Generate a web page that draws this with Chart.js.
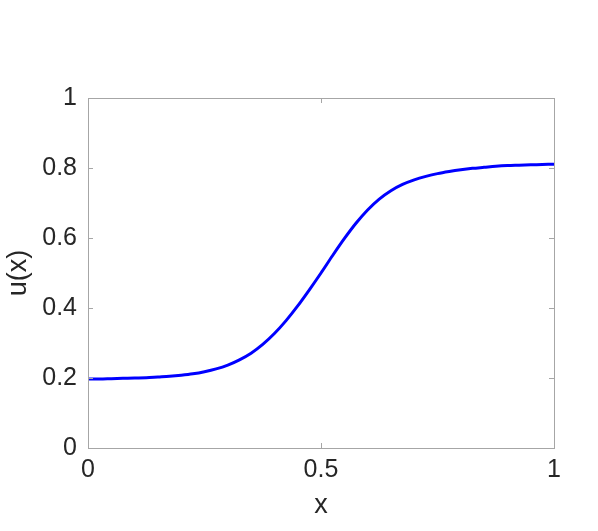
<!DOCTYPE html>
<html>
<head>
<meta charset="utf-8">
<script src="https://cdn.jsdelivr.net/npm/chart.js@4.4.1/dist/chart.umd.min.js"></script>
<style>
html,body{margin:0;padding:0;background:#fff;}
#wrap{width:598px;height:531px;}
</style>
</head>
<body>
<div id="wrap"><canvas id="c" width="598" height="531"></canvas></div>
<script>
const xValues = [0,0.025,0.05,0.075,0.1,0.125,0.15,0.175,0.2,0.225,0.25,0.275,0.3,0.325,0.35,0.375,0.4,0.425,0.45,0.475,0.5,0.525,0.55,0.575,0.6,0.625,0.65,0.675,0.7,0.725,0.75,0.775,0.8,0.825,0.85,0.875,0.9,0.925,0.95,0.975,1];
const uValues = [0.197,0.197,0.198,0.199,0.200,0.201,0.203,0.205,0.208,0.212,0.218,0.226,0.237,0.252,0.271,0.296,0.327,0.364,0.406,0.452,0.500,0.550,0.598,0.642,0.680,0.711,0.735,0.753,0.766,0.776,0.784,0.790,0.795,0.799,0.802,0.805,0.807,0.808,0.809,0.810,0.811];
const xTicks = [0,0.5,1];
const yTicks = [0,0.2,0.4,0.6,0.8,1];

const axisColor = '#a6a6a6';
const textColor = '#262626';
const fontFam = '"Liberation Sans", Arial, Helvetica, sans-serif';

const boxPlugin = {
  id: 'box',
  afterDraw(chart) {
    const {ctx, chartArea: a, scales} = chart;
    ctx.save();
    ctx.strokeStyle = axisColor;
    ctx.lineWidth = 1;
    ctx.beginPath();
    ctx.rect(a.left + 0.5, a.top + 0.5, a.right - a.left, a.bottom - a.top);
    ctx.stroke();
    const tl = 5;
    ctx.beginPath();
    yTicks.forEach(v => {
      const y = Math.round(scales.y.getPixelForValue(v)) + 0.5;
      ctx.moveTo(a.left, y); ctx.lineTo(a.left + tl, y);
      ctx.moveTo(a.right, y); ctx.lineTo(a.right - tl, y);
    });
    xTicks.forEach(v => {
      const x = Math.round(scales.x.getPixelForValue(v)) + 0.5;
      ctx.moveTo(x, a.bottom); ctx.lineTo(x, a.bottom - tl);
      ctx.moveTo(x, a.top); ctx.lineTo(x, a.top + tl);
    });
    ctx.stroke();
    ctx.restore();
  }
};

new Chart(document.getElementById('c'), {
  type: 'line',
  data: {
    datasets: [{
      data: xValues.map((x, i) => ({x: x, y: uValues[i]})),
      borderColor: '#0000ff',
      borderWidth: 3,
      pointRadius: 0,
      fill: false,
      cubicInterpolationMode: 'monotone'
    }]
  },
  options: {
    responsive: false,
    animation: false,
    devicePixelRatio: 1,
    layout: {padding: {top: 98, right: 44, left: 0, bottom: 0}},
    plugins: {legend: {display: false}, tooltip: {enabled: false}},
    scales: {
      x: {
        type: 'linear', min: 0, max: 1,
        afterFit(s) { s.height = 83; },
        afterBuildTicks(s) { s.ticks = xTicks.map(v => ({value: v})); },
        grid: {display: true, drawOnChartArea: false, drawTicks: false},
        border: {display: true, color: axisColor},
        ticks: {color: textColor, font: {family: fontFam, size: 25}, padding: 7, maxRotation: 0,
          callback: v => String(v)},
        title: {display: true, text: 'x', color: textColor, font: {family: fontFam, size: 27}, padding: {top: 0, bottom: 9}}
      },
      y: {
        type: 'linear', min: 0, max: 1,
        afterFit(s) { s.width = 88; },
        afterBuildTicks(s) { s.ticks = yTicks.map(v => ({value: v})); },
        grid: {display: true, drawOnChartArea: false, drawTicks: false},
        border: {display: true, color: axisColor},
        ticks: {color: textColor, font: {family: fontFam, size: 25}, padding: 11,
          callback: v => String(v)},
        title: {display: true, text: 'u(x)', color: textColor, font: {family: fontFam, size: 27}, padding: {top: 2, bottom: 0}}
      }
    }
  },
  plugins: [boxPlugin]
});
</script>
</body>
</html>
